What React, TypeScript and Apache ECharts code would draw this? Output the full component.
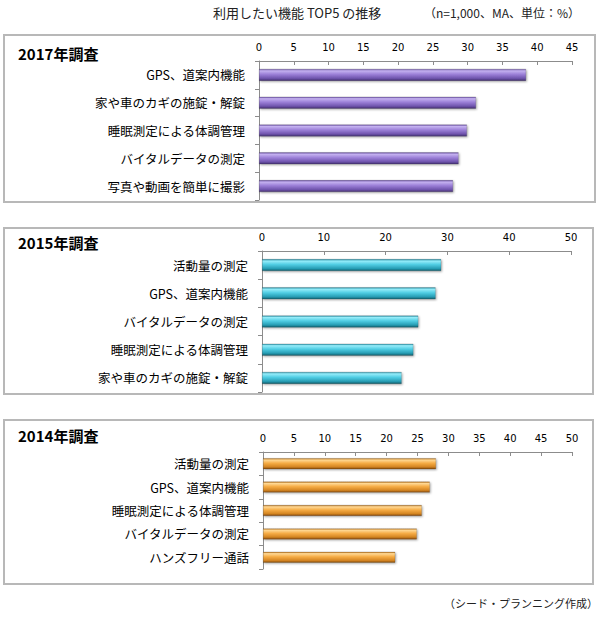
import React, { useEffect, useRef } from "react";
import * as echarts from "echarts";

const cats2017 = ["GPS、道案内機能", "家や車のカギの施錠・解錠", "睡眠測定による体調管理", "バイタルデータの測定", "写真や動画を簡単に撮影"];
const vals2017 = [38.4, 31.2, 29.9, 28.7, 27.9];

const cats2015 = ["活動量の測定", "GPS、道案内機能", "バイタルデータの測定", "睡眠測定による体調管理", "家や車のカギの施錠・解錠"];
const vals2015 = [29.0, 28.1, 25.3, 24.5, 22.6];

const cats2014 = ["活動量の測定", "GPS、道案内機能", "睡眠測定による体調管理", "バイタルデータの測定", "ハンズフリー通話"];
const vals2014 = [28.0, 27.0, 25.7, 24.9, 21.4];

const panelTitles = ["2017年調査", "2015年調査", "2014年調査"];
const mainTitle = "利用したい機能 TOP5 の推移";
const noteText = "（n=1,000、MA、単位：%）";
const sourceText = "（シード・プランニング作成）";

const JP = "'Noto Sans CJK JP', 'Noto Sans', sans-serif";

function grad(stops: string[]) {
  const pos = [0, 0.15, 0.45, 0.8, 1];
  return new echarts.graphic.LinearGradient(0, 0, 0, 1, stops.map((c, i) => ({ offset: pos[i], color: c })));
}

export default function App() {
  const ref = useRef<HTMLDivElement>(null);
  useEffect(() => {
    const chart = echarts.init(ref.current!, null, { renderer: "svg" });
    const grids = [
      { left: 259, right: 29, top: 61, height: 139 },
      { left: 262, right: 30, top: 251, height: 141 },
      { left: 263, right: 29, top: 452, height: 117 },
    ];
    const maxes = [45, 50, 50];
    const intervals = [5, 10, 5];
    const catsList = [cats2017, cats2015, cats2014];
    const valsList = [vals2017, vals2015, vals2014];
    const barWidths = [12, 12, 11];
    const colors = [
      grad(["#6a50a3", "#c4b1f0", "#9c80d8", "#6f54ad", "#443070"]),
      grad(["#2890a5", "#95ecf9", "#50cde3", "#279db4", "#135f6e"]),
      grad(["#b5701a", "#ffd894", "#f6ac45", "#d48522", "#864b0d"]),
    ];
    const xAxis = grids.map((_, i) => ({
      type: "value",
      gridIndex: i,
      position: "top",
      min: 0,
      max: maxes[i],
      interval: intervals[i],
      splitLine: { show: false },
      axisLine: { show: true, lineStyle: { color: "#8c8c8c", width: 1 } },
      axisTick: { show: true, inside: true, length: 4, lineStyle: { color: "#8c8c8c" } },
      axisLabel: { color: "#000", fontSize: 10, fontFamily: "'DejaVu Sans', sans-serif", margin: 9 },
    }));
    const yAxis = grids.map((_, i) => ({
      type: "category",
      gridIndex: i,
      inverse: true,
      data: catsList[i],
      axisLine: { show: true, lineStyle: { color: "#8c8c8c", width: 1 } },
      axisTick: { show: true, length: 4, lineStyle: { color: "#8c8c8c" } },
      axisLabel: { color: "#000", fontSize: 12.5, fontFamily: JP, margin: 14 },
    }));
    const series = grids.map((_, i) => ({
      type: "bar",
      xAxisIndex: i,
      yAxisIndex: i,
      data: valsList[i],
      barWidth: barWidths[i],
      itemStyle: {
        color: colors[i],
        borderColor: "rgba(0,0,0,0.25)",
        borderWidth: 0.5,
        shadowBlur: 2,
        shadowColor: "rgba(0,0,0,0.35)",
        shadowOffsetY: 1,
        shadowOffsetX: 1,
      },
    }));
    const boxes = [
      { x: 4, y: 35, w: 591, h: 167 },
      { x: 4, y: 228, w: 589, h: 166 },
      { x: 4, y: 420, w: 589, h: 164 },
    ];
    const titleY = [53, 242, 435];
    const graphic: any[] = [];
    boxes.forEach((b, i) => {
      graphic.push({
        type: "rect",
        shape: { x: b.x, y: b.y, width: b.w, height: b.h },
        style: { fill: "none", stroke: "#b8b8b8", lineWidth: 2 },
        z: -1,
      });
      graphic.push({
        type: "text",
        x: 18,
        y: titleY[i],
        style: {
          text: panelTitles[i],
          fill: "#000",
          font: `bold 15px ${JP}`,
          verticalAlign: "middle",
          align: "left",
        },
      });
    });
    graphic.push({
      type: "text",
      x: 213,
      y: 12,
      style: { text: mainTitle, fill: "#222", font: `13px ${JP}`, verticalAlign: "middle", align: "left" },
    });
    graphic.push({
      type: "text",
      x: 580,
      y: 12,
      style: { text: noteText, fill: "#222", font: `12px ${JP}`, verticalAlign: "middle", align: "right" },
    });
    graphic.push({
      type: "text",
      x: 598,
      y: 603,
      style: { text: sourceText, fill: "#222", font: `11px ${JP}`, verticalAlign: "middle", align: "right" },
    });
    chart.setOption({
      animation: false,
      backgroundColor: "#fff",
      grid: grids,
      xAxis,
      yAxis,
      series,
      graphic,
    });
    return () => chart.dispose();
  }, []);
  return <div ref={ref} style={{ position: "absolute", left: 0, top: 0, width: 601, height: 621 }} />;
}
